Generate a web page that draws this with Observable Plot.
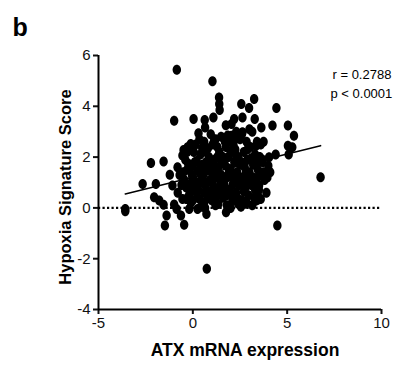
<!DOCTYPE html>
<html>
<head>
<meta charset="utf-8">
<script src="https://cdn.jsdelivr.net/npm/d3@7"></script>
<script src="https://cdn.jsdelivr.net/npm/@observablehq/plot@0.6"></script>
<style>
  html, body { margin: 0; padding: 0; background: #fff; }
  #chart { width: 394px; height: 365px; }
</style>
</head>
<body>
<div id="chart"></div>
<script>
// ---- data ----
const atx = [
  -0.85, 1.04, 1.39, 1.40, 1.42, 2.57, 3.25, 2.98, 4.43, -0.99, 0.04, 0.63, 1.09, 2.19, 2.63,
  0.65, 0.30, 2.05, 2.63, 4.22, 5.04, 5.36, 5.04, 5.27, 5.08, 4.39, 4.04, 4.00, 3.95, 3.63, 3.28,
  6.77, 4.48, 0.74, -3.58, -3.58, -2.66, -2.22, -1.96, -1.55, -1.22, -1.08, -2.05, -1.78, -1.55,
  -1.39, -1.48, -0.99, -0.86, -0.63, -0.46, -0.55, -0.81, -0.55, -0.49, -0.28, -0.11, -0.02,
  -0.19, 0.25, 0.72, 1.76, 2.40, 2.80, 3.33, 3.42, 3.51, 2.98, 1.13,
  -0.40, -0.30, -0.45, -0.35, -0.20, -0.10, 0.00, 0.10, 0.05, 0.20, 0.30, 0.25, 0.40, 0.35, 0.45, 0.50, -0.15, 0.15, -0.25, 0.00,
  0.60, 0.70, 0.55, 0.65, 0.75, 0.80, 0.90, 0.85, 1.00, 1.00, 1.05, 1.10, 1.15, 1.20, 1.25, 1.30, 1.35, 1.40, 1.45, 1.50, 0.95, 0.60, 1.20, 1.50, 0.70, 1.30,
  1.60, 1.65, 1.70, 1.75, 1.80, 1.85, 1.90, 1.95, 2.00, 2.05, 2.10, 2.15, 2.20, 2.25, 2.30, 2.35, 2.40, 2.45, 2.50, 2.50, 1.60, 2.00, 2.30, 1.70,
  2.60, 2.65, 2.70, 2.75, 2.80, 2.85, 2.90, 2.95, 3.00, 3.05, 3.10, 3.15, 3.20, 3.25, 3.30, 3.35, 3.40, 3.45, 3.50, 3.55, 3.60, 2.60, 3.00,
  -0.70, -0.60, -0.80, 0.90, 1.60, 2.20, 0.40, 1.10, 1.80, 2.70, 3.70, 3.75, 0.20, 0.85, 1.55, 2.10, 2.90, 3.40, -0.05, 0.55,
  -0.30, -0.10, 0.10, 0.30, 0.45, 0.60, 0.70, 0.80, 0.90, 1.00, 1.10, 1.20, 1.30, 1.40, 1.50, 1.60, 1.70, 1.80, 1.90, 2.00,
  2.10, 2.20, 2.30, 2.40, 2.50, 2.60, 2.70, 2.80, 2.90, 3.00, 3.10, 3.20, 3.30, 3.40, 3.50, 3.60, 3.70, 3.80, 0.20, 0.50,
  1.05, 1.55, 2.15, 2.55, 3.35, 0.00, -0.35, 0.65, 1.35, 2.85, 3.15, 0.35, 1.85, 2.35, 3.75, -0.50, 4.10, 3.90, 2.05, 1.75
];
const hypoxia = [
  5.44, 4.99, 4.35, 4.09, 3.85, 4.09, 4.29, 3.93, 3.93, 3.43, 3.50, 3.46, 3.56, 3.50, 3.56,
  3.17, 2.94, 2.84, 2.98, 3.24, 3.24, 2.84, 2.45, 2.39, 2.10, 2.10, 1.99, 1.66, 1.20, 3.17, 3.50,
  1.21, -0.69, -2.40, -0.04, -0.13, 0.94, 1.77, 0.94, 1.83, 1.31, 0.88, 0.42, 0.29, 0.12,
  -0.30, -0.69, 0.13, -0.04, -0.30, -0.66, 0.35, 1.60, 2.06, 2.28, 2.39, 2.52, 2.39,
  -0.04, -0.04, -0.24, -0.17, 0.16, 0.16, 0.29, 0.55, 0.88, 1.01, 2.65,
  1.90, 1.50, 1.10, 0.80, 0.50, 0.20, 1.20, 1.80, 2.20, 0.60, 1.00, 1.45, 2.10, 0.35, 0.05, 1.70, 0.95, 2.50, 1.75, 0.70,
  2.60, 2.20, 1.30, 0.90, 0.50, 1.60, 1.10, 2.00, 0.30, 1.40, 2.50, 0.80, 1.90, 2.70, 1.20, 0.50, 1.60, 2.20, 0.90, 2.80, 2.90, 0.20, 0.10, 1.30, 1.80, 2.00,
  0.40, 1.00, 1.70, 2.40, 0.10, 1.30, 2.00, 0.70, 1.50, 2.60, 0.30, 1.10, 1.80, 2.30, 0.60, 1.40, 2.00, 0.90, 1.70, 2.70, 2.00, 0.00, 3.00, 0.80,
  0.30, 1.20, 2.20, 1.60, 0.80, 2.60, 1.90, 0.50, 1.40, 2.40, 0.90, 3.00, 1.70, 0.40, 2.10, 1.10, 2.60, 1.50, 0.70, 2.00, 2.50, 2.90, 3.10,
  1.30, 0.90, 0.60, 0.60, 0.70, 0.50, 1.60, 1.50, 1.20, 1.00, 1.80, 1.40, 0.90, 0.40, 0.60, 1.30, 1.10, 0.30, 1.30, 1.00,
  2.20, 1.60, 1.00, 0.70, 1.25, 0.60, 1.45, 2.35, 0.65, 1.75, 0.45, 1.50, 2.40, 0.70, 1.90, 1.15, 2.60, 0.50, 1.55, 2.20,
  0.90, 1.30, 2.05, 0.35, 1.10, 1.80, 0.65, 1.35, 2.30, 0.95, 1.95, 1.20, 0.70, 1.80, 1.25, 0.35, 1.90, 1.10, 1.85, 2.35,
  0.95, 0.55, 2.50, 0.05, 2.45, 0.30, 0.35, 0.00, 0.15, 0.20, 0.10, 2.70, 2.85, 2.75, 2.60, 1.40, 1.40, 0.60, 3.30, 3.25
];
const fitX = [-3.58, 6.77];
const fitY = [0.55, 2.45];
const xTicks = [-5, 0, 5, 10];
const yTicks = [-4, -2, 0, 2, 4, 6];
const statLines = ["r = 0.2788", "p < 0.0001"];
const panelLabel = "b";
const xLabel = "ATX mRNA expression";
const yLabel = "Hypoxia Signature Score";

// ---- build tables ----
const points = atx.map((x, i) => ({x, y: hypoxia[i]}));
const fit = fitX.map((x, i) => ({x, y: fitY[i]}));

// ellipse-shaped dot (points look slightly taller than wide)
const ellipse = {
  draw(ctx) {
    const rx = 4.2, ry = 5, k = 0.5523;
    ctx.moveTo(rx, 0);
    ctx.bezierCurveTo(rx, ry * k, rx * k, ry, 0, ry);
    ctx.bezierCurveTo(-rx * k, ry, -rx, ry * k, -rx, 0);
    ctx.bezierCurveTo(-rx, -ry * k, -rx * k, -ry, 0, -ry);
    ctx.bezierCurveTo(rx * k, -ry, rx, -ry * k, rx, 0);
    ctx.closePath();
  }
};

const font = "'Liberation Sans', Arial, Helvetica, sans-serif";

const chart = Plot.plot({
  width: 394,
  height: 365,
  marginLeft: 98,
  marginRight: 13,
  marginTop: 55,
  marginBottom: 56,
  style: {fontFamily: font, fontSize: "15px", color: "#111", background: "#fff", overflow: "visible"},
  x: {domain: [-5, 10]},
  y: {domain: [-4, 6]},
  marks: [
    Plot.ruleY([0], {stroke: "#000", strokeWidth: 2.2, strokeDasharray: "2.2 2.3"}),
    Plot.line(fit, {x: "x", y: "y", stroke: "#000", strokeWidth: 1.6}),
    Plot.dot(points, {x: "x", y: "y", symbol: ellipse, fill: "#000", stroke: "none"}),
    Plot.axisX({ticks: xTicks, tickSize: 5, tickPadding: 3, tickFormat: d => String(d), strokeWidth: 2, label: null, fontSize: 15}),
    Plot.axisY({ticks: yTicks, tickSize: 5, tickPadding: 3, tickFormat: d => String(d), strokeWidth: 2, label: null, fontSize: 15}),
    Plot.ruleX([-5], {stroke: "#000", strokeWidth: 2}),
    Plot.ruleY([-4], {stroke: "#000", strokeWidth: 2}),
    Plot.text([xLabel], {frameAnchor: "bottom", textAnchor: "middle", lineAnchor: "middle", dx: 5, dy: 40.5, fontWeight: "bold", fontSize: 17.5, fill: "#000"}),
    Plot.text([yLabel], {frameAnchor: "left", textAnchor: "middle", lineAnchor: "middle", rotate: -90, dx: -33, dy: 4.5, fontWeight: "bold", fontSize: 16.5, fill: "#000"}),
    Plot.text([statLines[0]], {frameAnchor: "top-right", textAnchor: "start", lineAnchor: "bottom", dx: -49, dy: 23.5, fontSize: 13, fill: "#000"}),
    Plot.text([statLines[1]], {frameAnchor: "top-right", textAnchor: "start", lineAnchor: "bottom", dx: -51, dy: 42.5, fontSize: 13, fill: "#000"}),
    Plot.text([panelLabel], {frameAnchor: "top-left", textAnchor: "start", lineAnchor: "bottom", dx: -86, dy: -20, fontWeight: "bold", fontSize: 25, fill: "#000"})
  ]
});
document.getElementById("chart").appendChild(chart);
</script>
</body>
</html>
